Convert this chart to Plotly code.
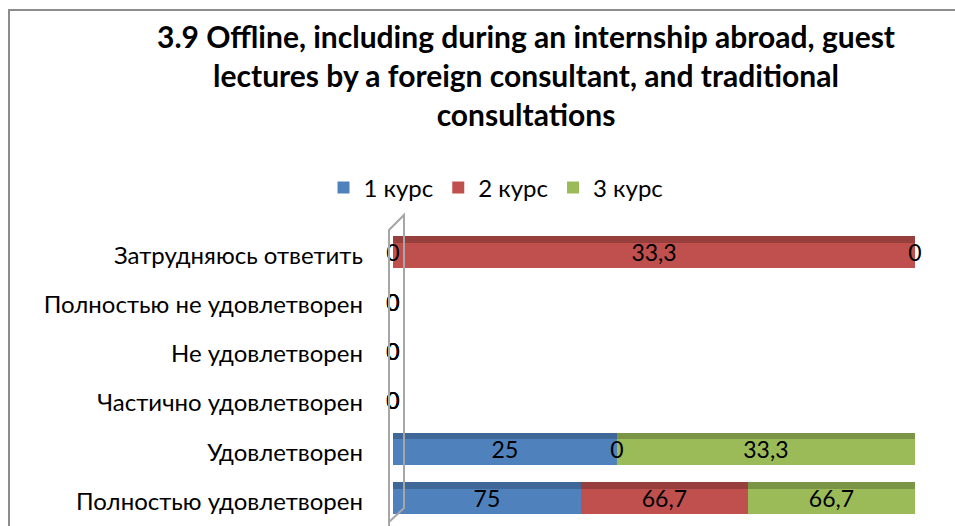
import plotly.graph_objects as go

categories = ["Полностью удовлетворен", "Удовлетворен", "Частично удовлетворен",
              "Не удовлетворен", "Полностью не удовлетворен", "Затрудняюсь ответить"]
series_names = ["1 курс", "2 курс", "3 курс"]
course1 = [75, 25, 0, 0, 0, 0]
course2 = [66.7, 0, 0, 0, 0, 33.3]
course3 = [66.7, 33.3, 0, 0, 0, 0]

colors = ["#4F81BD", "#C0504D", "#9BBB59"]
dark = ["#3F6797", "#963F3D", "#7A9546"]
FONT = "Lato, Open Sans, sans-serif"

series = [course1, course2, course3]
W, H = 955, 526
L, R, T, B = 393, 40, 231, 0
PW, PH = W - L - R, H - T - B

def px(x):
    return (x - L) / PW

def py(y):
    return (H - B - y) / PH

fig = go.Figure()

# depth (top face) bars drawn beneath the main bars
for name, vals, c in zip(series_names, series, dark):
    fig.add_trace(go.Bar(y=categories, x=vals, orientation="h", marker_color=c,
                         marker_line_width=0, width=0.66, offset=-0.26,
                         showlegend=False, hoverinfo="skip", yaxis="y", xaxis="x"))

for name, vals, c in zip(series_names, series, colors):
    fig.add_trace(go.Bar(y=categories, x=vals, orientation="h", name=name,
                         marker_color=c, marker_line_width=0, width=0.52,
                         yaxis="y2", xaxis="x"))

# labels at segment centres (computed from the data)
lx, ly, lt = [], [], []
for i, cat in enumerate(categories):
    total = sum(s[i] for s in series)
    cum = 0.0
    for s in series:
        v = s[i]
        share = 100 * v / total if total else 0
        lx.append(cum + share / 2)
        ly.append(cat)
        lt.append(f"{v:g}".replace(".", ","))
        cum += share
fig.add_trace(go.Scatter(x=lx, y=ly, text=lt, mode="text", yaxis="y2",
                         textfont=dict(family=FONT, size=23, color="#000"),
                         showlegend=False, hoverinfo="skip", cliponaxis=False))

shapes = [
    dict(type="line", xref="paper", yref="paper", x0=px(9), y0=py(530), x1=px(9), y1=py(10),
         line=dict(color="#8C8C8C", width=2)),
    dict(type="line", xref="paper", yref="paper", x0=px(8), y0=py(10), x1=px(960), y1=py(10),
         line=dict(color="#8C8C8C", width=2)),
    dict(type="path", xref="paper", yref="paper",
         path=f"M {px(389)} {py(530)} L {px(389)} {py(230)} L {px(404)} {py(215)} L {px(404)} {py(508)} L {px(389)} {py(522)}",
         line=dict(color="#A6A6A6", width=2)),
]

fig.update_layout(
    width=W, height=H,
    margin=dict(l=L, r=R, t=T, b=B),
    paper_bgcolor="white", plot_bgcolor="white",
    barmode="stack", barnorm="percent", bargap=0.48,
    separators=", ",
    font=dict(family=FONT, size=24, color="#000"),
    title=dict(text="3.9 Offline, including during an internship abroad, guest<br>lectures by a foreign consultant, and traditional<br>consultations",
               x=526 / W, xanchor="center", xref="container",
               y=1 - 48 / H, yanchor="top", yref="container",
               font=dict(family=FONT, size=30, color="#000", weight="bold")),
    legend=dict(orientation="h", xref="container", yref="container",
                x=496 / W, xanchor="center", y=1 - 188 / H, yanchor="middle",
                font=dict(size=24), itemwidth=30, traceorder="normal"),
    xaxis=dict(range=[0, 100], showgrid=False, zeroline=False, showticklabels=False,
               showline=False, ticks=""),
    yaxis=dict(categoryorder="array", categoryarray=categories, showgrid=False,
               zeroline=False, showline=False, ticks="", ticklabelstandoff=29,
               range=[-0.5, 5.5]),
    yaxis2=dict(categoryorder="array", categoryarray=categories, overlaying="y",
                matches="y", showticklabels=False, showgrid=False, zeroline=False,
                showline=False, ticks="", range=[-0.5, 5.5]),
    shapes=shapes,
    hovermode=False,
)

fig.write_html("out.html", config={"displayModeBar": False},
               post_script="document.body.style.margin='0';document.body.style.overflow='hidden';")
